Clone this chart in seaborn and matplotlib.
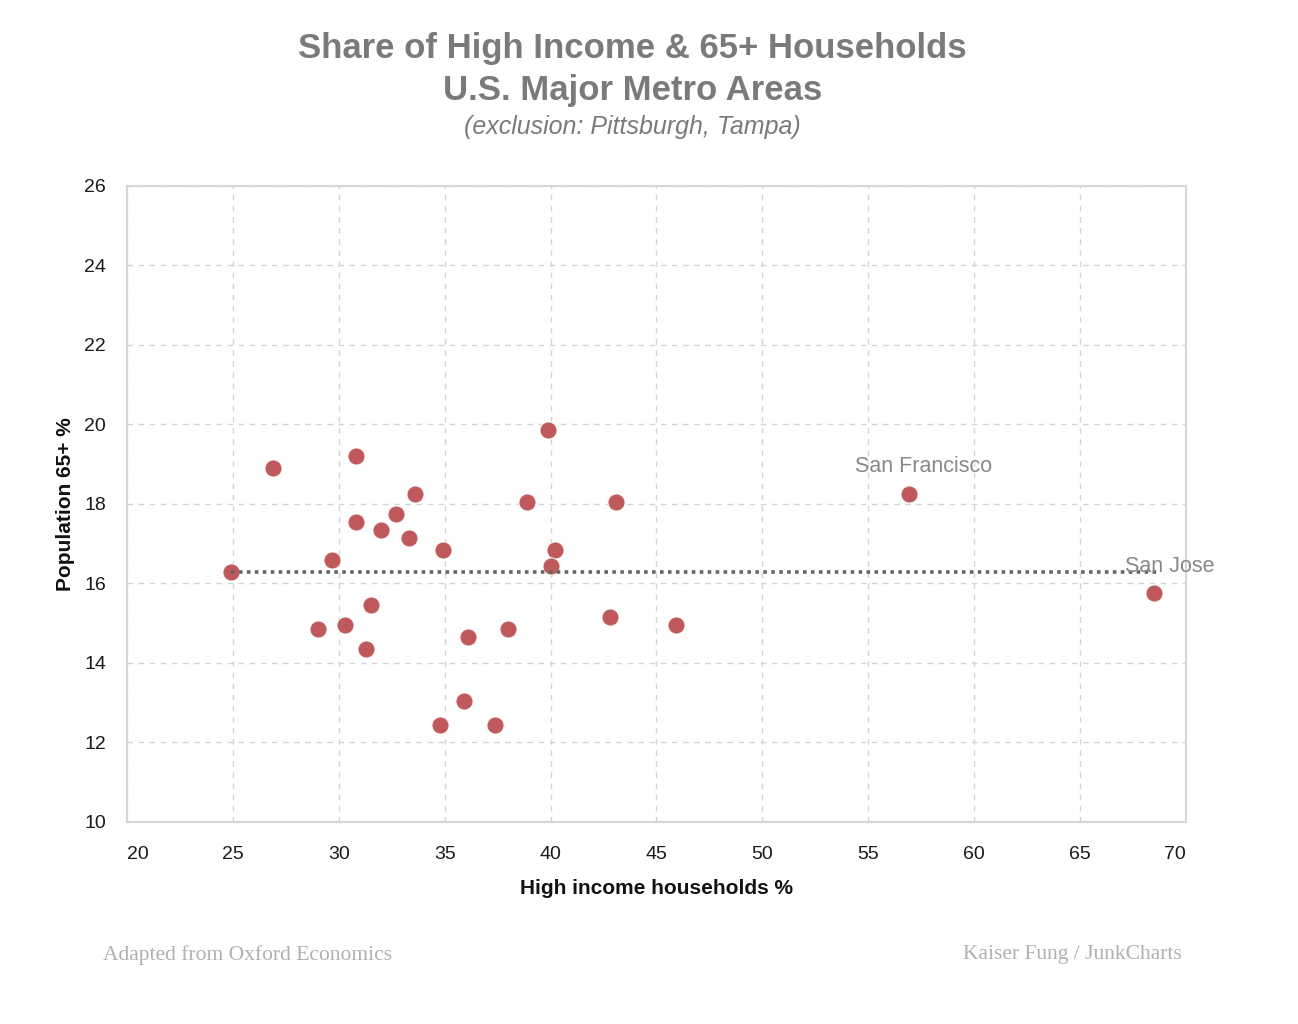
import matplotlib
matplotlib.use("Agg")
import matplotlib.pyplot as plt
import seaborn as sns
import pandas as pd
import numpy as np

# data
high_income = [24.9, 26.9, 30.8, 29.7, 30.8, 32.0, 32.7, 33.6, 33.3, 34.9,
               31.5, 29.0, 30.3, 31.3, 36.1, 38.0, 35.9, 34.8, 37.4, 39.9,
               38.9, 43.1, 40.2, 40.0, 42.8, 45.9, 56.9, 68.5]
pop_65 = [16.3, 18.9, 19.2, 16.6, 17.55, 17.35, 17.75, 18.25, 17.15, 16.85,
          15.45, 14.85, 14.95, 14.35, 14.65, 14.85, 13.05, 12.45, 12.45, 19.85,
          18.05, 18.05, 16.85, 16.45, 15.15, 14.95, 18.25, 15.75]
labels = [""] * 26 + ["San Francisco", "San Jose"]

x_ticks = [20, 25, 30, 35, 40, 45, 50, 55, 60, 65, 70]
y_ticks = [10, 12, 14, 16, 18, 20, 22, 24, 26]

df = pd.DataFrame({"x": high_income, "y": pop_65, "label": labels})

sns.set_theme(style="white")
plt.rcParams['font.family'] = ['Liberation Sans', 'DejaVu Sans']

fig = plt.figure(figsize=(12.98, 10.24), dpi=100)
ax = fig.add_axes([0.0978, 0.1973, 0.8159, 0.6211])

sns.scatterplot(data=df, x="x", y="y", ax=ax, color="#c0595b", s=150,
                edgecolor="white", linewidth=0.6, zorder=3)

# dotted reference line at the average share of 65+
mean_y = df["y"].mean()
sns.lineplot(x=[df["x"].min(), df["x"].max() + 0.2], y=[mean_y, mean_y], ax=ax,
             color="#666666", linestyle=(0, (1, 1.2)), linewidth=2.6, zorder=4)

for _, r in df[df["label"] != ""].iterrows():
    ax.annotate(r["label"], (r["x"], r["y"]), xytext=(11, 19.5),
                textcoords="offset points", ha="center", va="center",
                fontsize=15.5, color="#888888", zorder=5)

ax.set_xlim(20, 70)
ax.set_ylim(10, 26)
ax.set_xticks(x_ticks)
ax.set_yticks(y_ticks)
ax.set_xticklabels([str(t) for t in x_ticks], fontsize=14, color="#1a1a1a")
ax.set_yticklabels([str(t) for t in y_ticks], fontsize=14, color="#1a1a1a")
tl = ax.get_xticklabels()
tl[0].set_ha("left")
tl[-1].set_ha("right")
ax.tick_params(axis="x", length=0, pad=17)
ax.tick_params(axis="y", length=0, pad=15)

ax.grid(True, color="#d4d4d4", linestyle=(0, (4, 4)), linewidth=1)
ax.set_axisbelow(True)
for sp in ax.spines.values():
    sp.set_color("#d6d6d6")
    sp.set_linewidth(1.5)

ax.set_xlabel("High income households %", fontsize=15, fontweight="bold",
              color="#111111", labelpad=12)
ax.set_ylabel("Population 65+ %", fontsize=15, fontweight="bold",
              color="#111111", labelpad=7)

fig.text(0.487, 0.953, "Share of High Income & 65+ Households", ha="center",
         va="center", fontsize=25, fontweight="bold", color="#7a7a7a")
fig.text(0.487, 0.912, "U.S. Major Metro Areas", ha="center", va="center",
         fontsize=25, fontweight="bold", color="#7a7a7a")
fig.text(0.487, 0.876, "(exclusion: Pittsburgh, Tampa)", ha="center",
         va="center", fontsize=18, style="italic", color="#7a7a7a")

fig.text(103 / 1298, 1 - 955 / 1024, "Adapted from Oxford Economics",
         ha="left", va="center", fontsize=15.5, family="Liberation Serif",
         color="#b0b0b0")
fig.text(1182 / 1298, 1 - 955 / 1024, "Kaiser Fung / JunkCharts",
         ha="right", va="center", fontsize=15.5, family="Liberation Serif",
         color="#b0b0b0")

fig.savefig("out.png", dpi=100)
